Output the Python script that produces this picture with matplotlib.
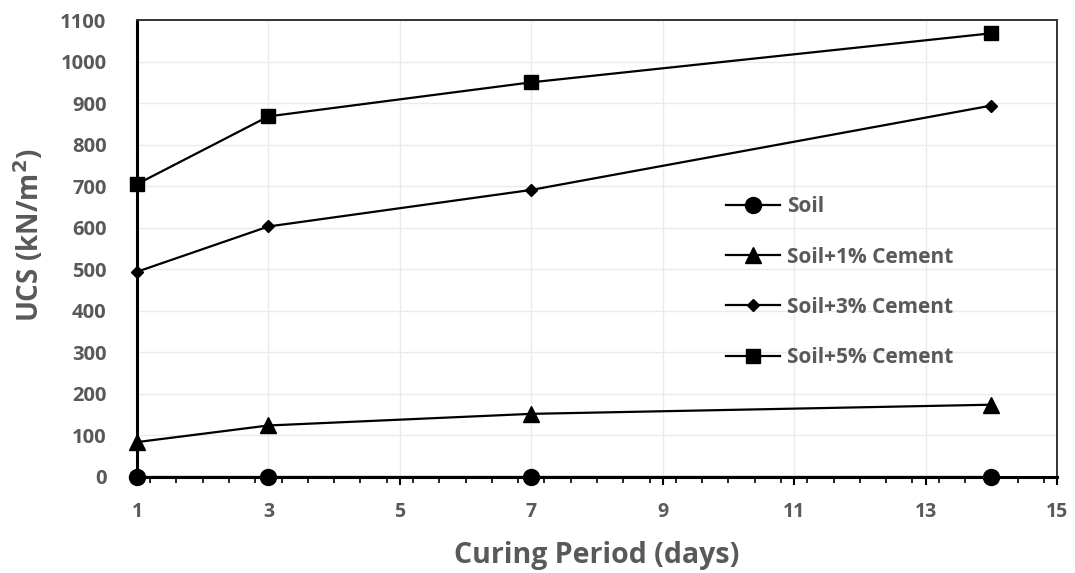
import matplotlib
matplotlib.use("Agg")
import matplotlib.pyplot as plt
from matplotlib.ticker import MultipleLocator

days = [1, 3, 7, 14]
soil = [0, 0, 0, 0]
cem1 = [84, 124, 152, 174]
cem3 = [494, 603, 691, 894]
cem5 = [705, 868, 950, 1068]
labels = ["Soil", "Soil+1% Cement", "Soil+3% Cement", "Soil+5% Cement"]
xticks = [1, 3, 5, 7, 9, 11, 13, 15]

plt.rcParams['font.family'] = ['Open Sans', 'DejaVu Sans']
gray = '#595959'

fig = plt.figure(figsize=(10.75, 5.73), dpi=100)
ax = fig.add_axes([137/1075, 1 - 477/573, (1057-137)/1075, (477-20)/573])

ax.plot(days, soil, '-', color='black', marker='o', ms=11.5, lw=1.6, label=labels[0], clip_on=False, zorder=5)
ax.plot(days, cem1, '-', color='black', marker='^', ms=11, lw=1.6, label=labels[1], clip_on=False, zorder=5)
ax.plot(days, cem3, '-', color='black', marker='D', ms=6.5, lw=1.6, label=labels[2], clip_on=False, zorder=5)
ax.plot(days, cem5, '-', color='black', marker='s', ms=10.5, lw=1.6, label=labels[3], clip_on=False, zorder=5)

ax.set_xlim(1, 15)
ax.set_ylim(0, 1100)
ax.set_xticks(xticks)
ax.xaxis.set_minor_locator(MultipleLocator(0.4))
ax.yaxis.set_major_locator(MultipleLocator(100))
ax.grid(True, which='major', color='#ebebeb', lw=1)
ax.set_axisbelow(True)

for s in ['left', 'bottom']:
    ax.spines[s].set_linewidth(2.2)
    ax.spines[s].set_color('black')
for s in ['top', 'right']:
    ax.spines[s].set_linewidth(1.4)
    ax.spines[s].set_color('#333333')

ax.tick_params(axis='x', which='major', direction='out', length=6, width=1.5, color='black',
               labelsize=14, labelcolor=gray, pad=12)
ax.tick_params(axis='x', which='minor', direction='out', length=4, width=1.2, color='black')
ax.tick_params(axis='y', which='major', length=0, labelsize=14.5, labelcolor=gray, pad=22)
for t in ax.get_xticklabels() + ax.get_yticklabels():
    t.set_fontweight('bold')

ax.set_xlabel('Curing Period (days)', fontsize=20.5, fontweight='bold', color=gray, labelpad=14)
ax.set_ylabel('UCS (kN/m$^\\mathbf{2}$)', fontsize=20, fontweight='bold', color=gray)
ax.yaxis.set_label_coords(-0.099, 0.53)

leg = ax.legend(loc='upper left', bbox_to_anchor=(0.62, 0.655), frameon=False,
                labelspacing=1.4, handlelength=2.6, handletextpad=0.3,
                labelcolor=gray, prop={'weight': 'bold', 'size': 15})

fig.savefig('out.png', dpi=100)
